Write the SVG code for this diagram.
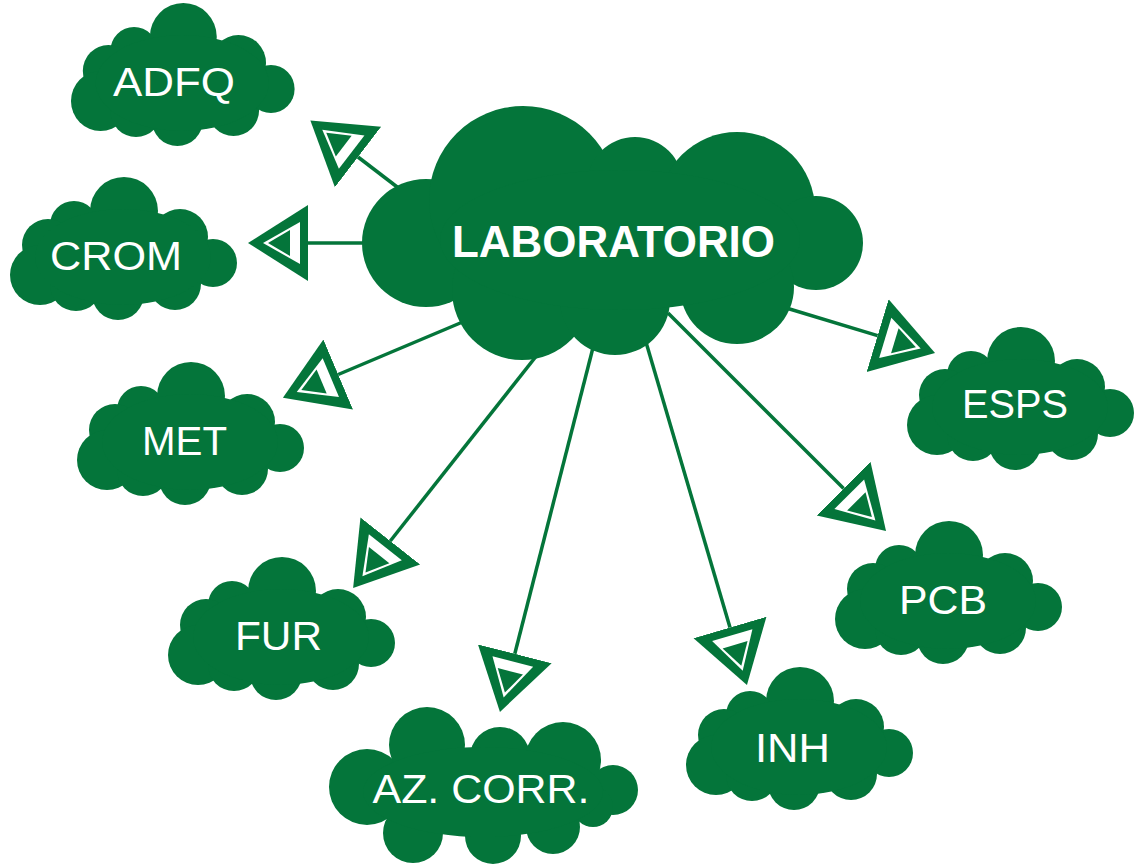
<svg xmlns="http://www.w3.org/2000/svg" xmlns:xlink="http://www.w3.org/1999/xlink" width="1140" height="866" viewBox="0 0 1140 866">
<style>
.cl{fill:#04753a}
.ln{stroke:#04753a;stroke-width:3.5;fill:none;marker-end:url(#ah)}
.lbl{fill:#ffffff;font-family:"Liberation Sans",Arial,sans-serif;font-size:40px;text-anchor:middle}
.main{fill:#ffffff;font-family:"Liberation Sans",Arial,sans-serif;font-size:44px;font-weight:bold;text-anchor:middle}
</style>
<defs>
<marker id="ah" markerUnits="userSpaceOnUse" orient="auto" viewBox="0 -40 62 80" markerWidth="62" markerHeight="80" refX="0" refY="0">
<polygon points="0,-38 60,0 0,38" fill="#04753a"/>
<polygon points="8,-21 45,0 8,21" fill="#ffffff"/>
<polygon points="18,-13 40,0 18,13" fill="#04753a"/>
</marker>
<g id="cloud" class="cl">
<circle cx="114" cy="34" r="34"/>
<circle cx="64" cy="48" r="24"/>
<circle cx="38" cy="68" r="26"/>
<circle cx="30" cy="98" r="30"/>
<circle cx="66" cy="108" r="26"/>
<circle cx="108" cy="117" r="26"/>
<circle cx="165" cy="107" r="26"/>
<circle cx="203" cy="86" r="24"/>
<circle cx="170" cy="60" r="28"/>
<ellipse cx="113" cy="80" rx="88" ry="48"/>
</g>
</defs>
<g id="connectors">
<path class="ln" d="M405,193 L358,157"/>
<path class="ln" d="M375,243 L308,243"/>
<path class="ln" d="M465,321 L338.2,374.5"/>
<path class="ln" d="M545,345 L390.3,541"/>
<path class="ln" d="M597,332 L514.8,653.8"/>
<path class="ln" d="M643,332 L730,627.5"/>
<path class="ln" d="M668,313 L843.6,488.6"/>
<path class="ln" d="M783,307 L877.6,335.6"/>
</g>
<g id="node-laboratorio" class="cl">
<circle cx="426" cy="243" r="64"/>
<circle cx="523" cy="200" r="94"/>
<circle cx="635" cy="185" r="48"/>
<circle cx="737" cy="210" r="78"/>
<circle cx="816" cy="243" r="47"/>
<circle cx="522" cy="290" r="70"/>
<circle cx="615" cy="300" r="55"/>
<circle cx="737" cy="287" r="57"/>
<ellipse cx="620" cy="240" rx="180" ry="70"/>
<text class="main" x="613.5" y="257" textLength="323" lengthAdjust="spacingAndGlyphs">LABORATORIO</text>
</g>
<g id="node-adfq">
<use xlink:href="#cloud" transform="translate(71,3) scale(0.985,1)"/>
<text class="lbl" x="174" y="96" textLength="122" lengthAdjust="spacingAndGlyphs">ADFQ</text>
</g>
<g id="node-crom">
<use xlink:href="#cloud" transform="translate(10,177)"/>
<text class="lbl" x="116" y="270" textLength="132" lengthAdjust="spacingAndGlyphs">CROM</text>
</g>
<g id="node-met">
<use xlink:href="#cloud" transform="translate(77,362)"/>
<text class="lbl" x="184.5" y="455" textLength="85" lengthAdjust="spacingAndGlyphs">MET</text>
</g>
<g id="node-fur">
<use xlink:href="#cloud" transform="translate(168,557)"/>
<text class="lbl" x="278.5" y="650" textLength="87" lengthAdjust="spacingAndGlyphs">FUR</text>
</g>
<g id="node-azcorr" class="cl">
<circle cx="367" cy="787" r="38"/>
<circle cx="427" cy="745" r="38"/>
<circle cx="500" cy="757" r="30"/>
<circle cx="563" cy="760" r="38"/>
<circle cx="613" cy="790" r="25"/>
<circle cx="413" cy="833" r="30"/>
<circle cx="493" cy="836" r="28"/>
<circle cx="553" cy="827" r="27"/>
<circle cx="593" cy="807" r="20"/>
<ellipse cx="483" cy="792" rx="120" ry="45"/>
<text class="lbl" x="481" y="803" textLength="217" lengthAdjust="spacingAndGlyphs">AZ. CORR.</text>
</g>
<g id="node-inh">
<use xlink:href="#cloud" transform="translate(686,667)"/>
<text class="lbl" x="792.5" y="762" textLength="75" lengthAdjust="spacingAndGlyphs">INH</text>
</g>
<g id="node-pcb">
<use xlink:href="#cloud" transform="translate(835,521)"/>
<text class="lbl" x="943" y="614" textLength="88" lengthAdjust="spacingAndGlyphs">PCB</text>
</g>
<g id="node-esps">
<use xlink:href="#cloud" transform="translate(907,327)"/>
<text class="lbl" x="1015" y="418" textLength="106" lengthAdjust="spacingAndGlyphs">ESPS</text>
</g>
</svg>
